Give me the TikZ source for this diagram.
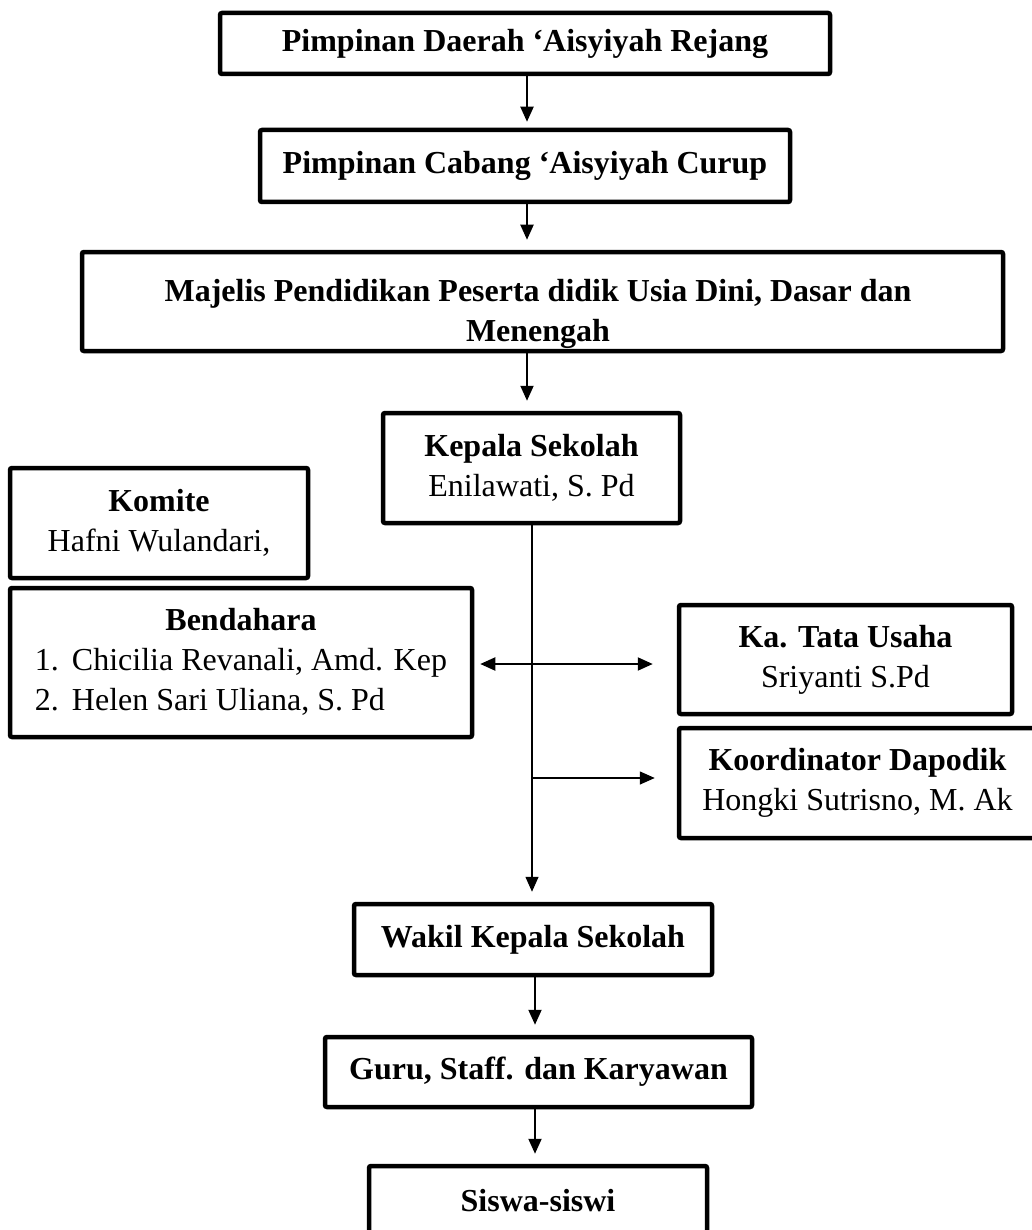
\documentclass[tikz,border=0pt]{standalone}
\usepackage{fontspec}
\setmainfont{Liberation Serif}
\usetikzlibrary{arrows.meta,calc}
\begin{document}
\begin{tikzpicture}[x=0.5pt,y=-0.5pt,
  box/.style={draw, line width=2.25pt, rectangle, rounded corners=1pt, inner sep=0pt, align=center, font=\fontsize{16}{20}\selectfont},
  txt/.style={inner sep=0pt, align=center, font=\fontsize{16}{20}\selectfont},
  tip/.tip={Triangle[length=7.5pt,width=6.5pt]},
  arr/.style={-tip, line width=1pt, shorten >=5pt},
  thinarr/.style={-tip, line width=0.7pt}]
\useasboundingbox (0,0) rectangle (1032,1230);
\fill[white] (0,0) rectangle (1032,1230);

\node[box, minimum width=305pt, minimum height=30.5pt] (top) at (525,43.5) {\textbf{Pimpinan Daerah ‘Aisyiyah Rejang}};
\node[box, minimum width=265pt, minimum height=36pt] (cabang) at (525,166) {\textbf{Pimpinan Cabang ‘Aisyiyah Curup}};
\node[box, minimum width=460.5pt, minimum height=49.5pt] (majelis) at (542.5,301.5) {};
\node[txt] (majelistxt) at (538,314) {\textbf{Majelis Pendidikan Peserta didik Usia Dini, Dasar dan}\\\textbf{Menengah}};
\node[box, minimum width=148.5pt, minimum height=55pt] (kepala) at (531.5,468) {\textbf{Kepala Sekolah}\\Enilawati, S. Pd};
\node[box, minimum width=149pt, minimum height=55pt] (komite) at (159,523) {\textbf{Komite}\\Hafni Wulandari,};
\node[box, minimum width=231pt, minimum height=74.5pt] (bend) at (241,662.5) {\begin{tabular}{@{}l@{}}\multicolumn{1}{c}{\textbf{Bendahara}}\\\makebox[18.5pt][l]{1.}Chicilia Revanali, Amd. Kep\\\makebox[18.5pt][l]{2.}Helen Sari Uliana, S. Pd\end{tabular}};
\node[box, minimum width=166.5pt, minimum height=54.5pt] (tata) at (845.5,659.5) {\textbf{Ka. Tata Usaha}\\Sriyanti S.Pd};
\node[box, minimum width=178.5pt, minimum height=55pt] (koord) at (857.5,783) {\textbf{Koordinator Dapodik}\\Hongki Sutrisno, M. Ak};
\node[box, minimum width=179pt, minimum height=35.5pt] (wakil) at (533,939.5) {\textbf{Wakil Kepala Sekolah}};
\node[box, minimum width=213.5pt, minimum height=35pt] (guru) at (538.5,1072) {\textbf{Guru, Staff. dan Karyawan}};
\node[box, minimum width=169pt, minimum height=35pt] (siswa) at (538,1201) {\textbf{Siswa-siswi}};

\coordinate (ax) at (527,0);
\coordinate (vx) at (532,0);
\coordinate (wx) at (535,0);
\coordinate (j1) at (532,664);
\coordinate (j2) at (532,778);

\draw[arr, shorten >=3pt] (top.south -| ax) -- (cabang.north -| ax);
\draw[arr] (cabang.south -| ax) -- (majelis.north -| ax);
\draw[arr] (majelis.south -| ax) -- (kepala.north -| ax);
\draw[thinarr, shorten >=5pt] (kepala.south -| vx) -- (wakil.north -| vx);
\draw[line width=1pt, tip-tip] ([xshift=3pt]bend.east |- j1) -- ([xshift=-12pt]tata.west |- j1);
\draw[thinarr] (j2) -- ([xshift=-11pt]koord.west |- j2);
\draw[arr] (wakil.south -| wx) -- (guru.north -| wx);
\draw[arr] (guru.south -| wx) -- (siswa.north -| wx);
\end{tikzpicture}
\end{document}
